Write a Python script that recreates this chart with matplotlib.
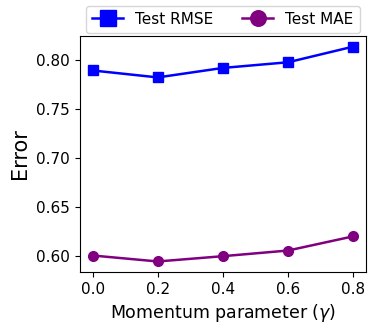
import matplotlib
matplotlib.use("Agg")
import matplotlib.pyplot as plt

# momentum values on x axis
gamma = [0.0, 0.2, 0.4, 0.6, 0.8]

# test errors
rmse = [0.7896, 0.7825, 0.7922, 0.7980, 0.8140]
mae = [0.6004, 0.5943, 0.5997, 0.6055, 0.6200]

fig, ax = plt.subplots(figsize=(3.7, 3.26), dpi=100)

ax.plot(gamma, rmse, color="blue", marker="s", markersize=7, linewidth=1.8, label="Test RMSE")
ax.plot(gamma, mae, color="purple", marker="o", markersize=7, linewidth=1.8, label="Test MAE")

ax.set_xlabel(r"Momentum parameter ($\gamma$)", fontsize=12.5)
ax.set_ylabel("Error", fontsize=15)
ax.tick_params(labelsize=11)
ax.set_xticks(gamma)
ax.set_yticks([0.60, 0.65, 0.70, 0.75, 0.80])

ax.legend(loc="lower center", bbox_to_anchor=(0.5, 1.0), ncol=2, fontsize=11,
          markerscale=1.6, handlelength=2.0, columnspacing=1.9, borderaxespad=0.2)

fig.subplots_adjust(left=0.215, right=0.99, top=0.89, bottom=0.165)
fig.savefig("out.png", dpi=100)
